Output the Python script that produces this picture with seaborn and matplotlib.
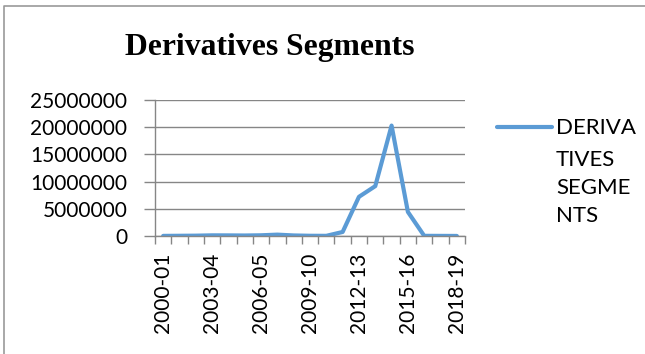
import matplotlib
matplotlib.use("Agg")
import matplotlib.pyplot as plt
import seaborn as sns
import numpy as np
import pandas as pd
from matplotlib.ticker import FixedLocator
from matplotlib.lines import Line2D

years = ["2000-01", "2001-02", "2002-03", "2003-04", "2004-05", "2005-06", "2006-05",
         "2007-08", "2008-09", "2009-10", "2010-11", "2011-12", "2012-13", "2013-14",
         "2014-15", "2015-16", "2016-17", "2017-18", "2018-19"]
values = [20000, 40000, 60000, 120000, 110000, 90000, 130000,
          250000, 100000, 40000, 30000, 740000, 7200000, 9170000,
          20300000, 4430000, 30000, 20000, 10000]
shown_labels = ["2000-01", "2003-04", "2006-05", "2009-10", "2012-13", "2015-16", "2018-19"]
y_ticks = [0, 5000000, 10000000, 15000000, 20000000, 25000000]
title = "Derivatives Segments"
legend_lines = ["DERIVA", "TIVES", "SEGME", "NTS"]

sns.set_style("white")
plt.rcParams['font.family'] = ['Lato', 'DejaVu Sans']
plt.rcParams['text.color'] = 'black'
plt.rcParams['xtick.color'] = 'black'
plt.rcParams['ytick.color'] = 'black'

W, H = 645, 354
fig = plt.figure(figsize=(W / 100, H / 100), dpi=100)
ax = fig.add_axes([155 / W, 1 - 236 / H, 310 / W, 136 / H])

df = pd.DataFrame({"pos": np.arange(len(years)), "value": values})
color = "#5B9BD5"
sns.lineplot(data=df, x="pos", y="value", ax=ax, color=color, linewidth=3.0,
             legend=False)

ax.set_xlim(-0.5, len(years) - 0.5)
ax.set_ylim(0, 25000000)
ax.set_yticks(y_ticks)
ax.set_yticklabels([str(v) for v in y_ticks], fontsize=15, color="black")
ax.yaxis.grid(True, color="#868686", linewidth=1.0)
ax.set_axisbelow(True)

label_pos = [years.index(l) for l in shown_labels]
ax.set_xticks(label_pos)
ax.set_xticklabels(shown_labels, rotation=90, fontsize=15, color="black")
ax.xaxis.set_minor_locator(FixedLocator(np.arange(-0.5, len(years), 1.0)))
ax.tick_params(axis="x", which="major", bottom=True, length=0, pad=12)
ax.tick_params(axis="x", which="minor", bottom=True, length=6, color="#868686", width=1, direction="out")
ax.tick_params(axis="y", which="major", left=True, length=8, color="#868686", width=1, direction="out", pad=12)
ax.set_xlabel("")
ax.set_ylabel("")

for s in ["top", "right"]:
    ax.spines[s].set_visible(False)
ax.spines["left"].set_color("#868686")
ax.spines["bottom"].set_color("#868686")
ax.spines["left"].set_linewidth(1)
ax.spines["bottom"].set_linewidth(1)

fig.text(270 / W, 1 - 48 / H, title, ha="center", va="center", color="black",
         fontsize=22.8, fontweight="bold", family="Liberation Serif")

fig.add_artist(Line2D([497 / W, 552 / W], [1 - 127 / H, 1 - 127 / H],
                      color=color, linewidth=3.0, solid_capstyle="round",
                      transform=fig.transFigure))
for txt, yc in zip(legend_lines, [128, 160, 188, 216]):
    fig.text(556 / W, 1 - yc / H, txt, ha="left", va="center", fontsize=16, color="black")

fig.add_artist(Line2D([4 / W, 4 / W, 1.0], [0.0, 1 - 6 / H, 1 - 6 / H],
                      color="#999999", linewidth=1.2, transform=fig.transFigure))

fig.savefig("out.png", dpi=100)
